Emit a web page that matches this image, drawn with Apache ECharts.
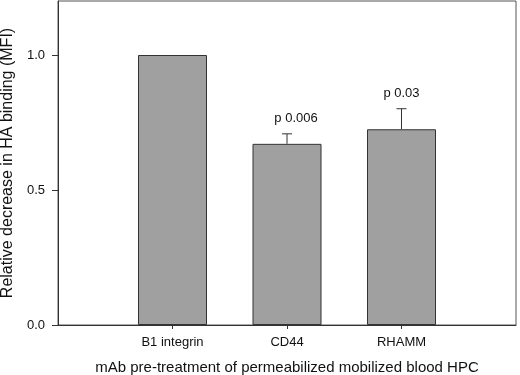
<!DOCTYPE html>
<html>
<head>
<meta charset="utf-8">
<script src="https://cdn.jsdelivr.net/npm/echarts@6/dist/echarts.min.js"></script>
<style>
  html, body { margin: 0; padding: 0; background: #fff; }
  #chart { width: 520px; height: 375px; }
</style>
</head>
<body>
<div id="chart"></div>
<script>
// data
var categories = ['B1 integrin', 'CD44', 'RHAMM'];
var means = [1.0, 0.671, 0.725];
var errors = [0, 0.037, 0.076];
var pLabels = ['', 'p 0.006', 'p 0.03'];
var yTicks = [0, 0.5, 1.0];

// empty slots at both ends so the bars sit one step in from the frame
var axisData = [''].concat(categories, ['']);
var barData = ['-'].concat(means, ['-']);
var errData = categories.map(function (c, i) {
    return [i + 1, means[i], errors[i]];
});

var font = 'Liberation Sans, Arial, sans-serif';
var myChart = echarts.init(document.getElementById('chart'));

var option = {
    animation: false,
    backgroundColor: '#fff',
    grid: {
        left: 58, right: 4, top: 1, bottom: 50,
        outerBoundsMode: 'none',
        containLabel: false,
        show: true, borderColor: '#555', borderWidth: 1
    },
    xAxis: {
        type: 'category',
        data: axisData,
        boundaryGap: false,
        name: 'mAb pre-treatment of permeabilized mobilized blood HPC',
        nameLocation: 'middle',
        nameGap: 35,
        nameTextStyle: { fontFamily: font, fontSize: 15, color: '#111' },
        axisLine: { lineStyle: { color: '#333', width: 1 } },
        axisTick: {
            length: 4,
            lineStyle: { color: '#333' },
            interval: function (idx, val) { return val !== ''; }
        },
        axisLabel: {
            interval: 0, margin: 11,
            fontFamily: font, fontSize: 13, color: '#111'
        },
        splitLine: { show: false }
    },
    yAxis: {
        type: 'value',
        min: 0, max: 1.2, interval: 0.5,
        name: 'Relative decrease in HA binding (MFI)',
        nameLocation: 'middle',
        nameGap: 40,
        nameTextStyle: { fontFamily: font, fontSize: 16, color: '#111' },
        axisLine: { show: true, lineStyle: { color: '#333', width: 1 } },
        axisTick: { show: true, length: 6, customValues: yTicks, lineStyle: { color: '#333' } },
        axisLabel: {
            margin: 13, fontFamily: font, fontSize: 13, color: '#111',
            customValues: yTicks,
            formatter: function (v) { return v.toFixed(1); }
        },
        splitLine: { show: false }
    },
    series: [
        {
            type: 'bar',
            data: barData,
            barWidth: 69,
            itemStyle: { color: '#a0a0a0', borderColor: '#333', borderWidth: 1 }
        },
        {
            type: 'custom',
            data: errData,
            z: 5,
            renderItem: function (params, api) {
                var x = api.value(0), m = api.value(1), e = api.value(2);
                var txt = pLabels[params.dataIndex];
                if (!e) return { type: 'group', children: [] };
                var base = api.coord([x, m]);
                var hi = api.coord([x, m + e]);
                var nudge = params.dataIndex === 1 ? 9 : 0;
                return {
                    type: 'group',
                    children: [
                        { type: 'line', shape: { x1: base[0], y1: base[1], x2: hi[0], y2: hi[1] },
                          style: { stroke: '#333', lineWidth: 1 } },
                        { type: 'line', shape: { x1: hi[0] - 5, y1: hi[1], x2: hi[0] + 5, y2: hi[1] },
                          style: { stroke: '#333', lineWidth: 1 } },
                        { type: 'text', x: hi[0] + nudge, y: hi[1] - 15,
                          style: { text: txt, fill: '#111', font: '13px ' + font,
                                   align: 'center', verticalAlign: 'middle' } }
                    ]
                };
            }
        }
    ]
};
myChart.setOption(option);
</script>
</body>
</html>
